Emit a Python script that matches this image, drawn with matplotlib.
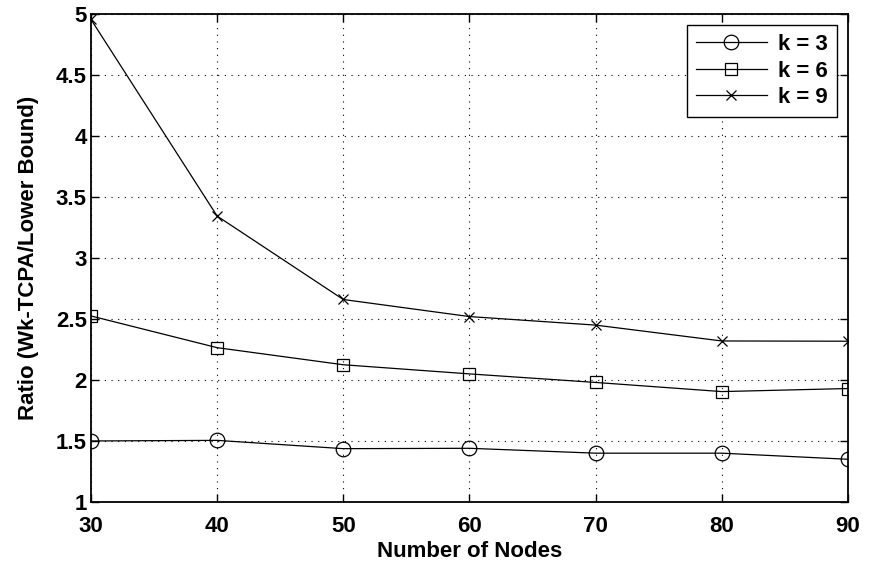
import numpy as np
import matplotlib
matplotlib.use("Agg")
import matplotlib.pyplot as plt

# values
nodes = [30, 40, 50, 60, 70, 80, 90]
ratio_k3 = [1.50, 1.505, 1.437, 1.44, 1.40, 1.40, 1.35]
ratio_k6 = [2.525, 2.265, 2.125, 2.05, 1.98, 1.905, 1.93]
ratio_k9 = [4.956, 3.344, 2.66, 2.52, 2.45, 2.32, 2.318]

plt.rcParams['font.family'] = ['Liberation Sans', 'DejaVu Sans']
plt.rcParams['font.weight'] = 'bold'

fig = plt.figure(figsize=(8.75, 5.64), dpi=100)
ax = fig.add_axes([0.104, 0.110, 0.865, 0.865])

ax.plot(nodes, ratio_k3, color="black", lw=0.9, marker="o", ms=10.5,
        mfc="none", mec="black", mew=0.9, label="k = 3")
ax.plot(nodes, ratio_k6, color="black", lw=0.9, marker="s", ms=9,
        mfc="none", mec="black", mew=0.9, label="k = 6")
ax.plot(nodes, ratio_k9, color="black", lw=0.9, marker="x", ms=7.5,
        mec="black", mew=0.9, label="k = 9")

ax.set_xlim(30, 90)
ax.set_ylim(1, 5)
ax.set_xticks(np.arange(30, 91, 10))
ax.set_yticks(np.arange(1, 5.01, 0.5))
ax.set_yticklabels(["1", "1.5", "2", "2.5", "3", "3.5", "4", "4.5", "5"])
ax.grid(True, color="black", linestyle=(0, (1, 5)), linewidth=0.8)
ax.tick_params(direction="in", top=True, right=True, length=6, width=1,
               labelsize=16)
ax.tick_params(axis="x", pad=10)
ax.tick_params(axis="y", pad=3)
for s in ax.spines.values():
    s.set_linewidth(1.3)

ax.set_xlabel("Number of Nodes", fontsize=16, fontweight="bold", labelpad=3)
ax.set_ylabel("Ratio (Wk-TCPA/Lower Bound)", fontsize=16, fontweight="bold", labelpad=12)

leg = ax.legend(loc="upper right", fontsize=16, fancybox=False, framealpha=1,
                edgecolor="black", borderaxespad=0.5, handlelength=3.2,
                labelspacing=0.25, handletextpad=0.5, borderpad=0.4)
leg.get_frame().set_linewidth(1.0)

fig.savefig("out.png", dpi=100)
